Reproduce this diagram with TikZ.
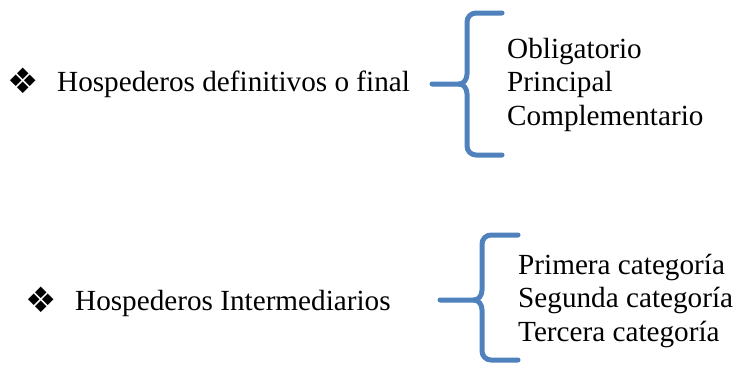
\documentclass[tikz,border=0pt]{standalone}
\usepackage{fontspec}
\setmainfont{Liberation Serif}
\newfontfamily\simbolos{DejaVu Sans}
\usepackage{xcolor}
\definecolor{llaveazul}{RGB}{79,129,189}

\begin{document}
\begin{tikzpicture}[x=1pt, y=-1pt,
	texto/.style={anchor=base west, inner sep=0pt, font=\fontsize{29.2}{33.5}\selectfont},
	vineta/.style={inner sep=0pt, font=\simbolos\fontsize{35}{35}\selectfont},
	llave/.style={llaveazul, line width=5pt, line cap=round, line join=round}]
	\useasboundingbox (0,0) rectangle (736,365);
	
	\node [vineta] (v1) at (23,81) {❖};
	\node [texto] (h1) at (57,91) {Hospederos definitivos o final};
	\foreach \t [count=\i] in {Obligatorio, Principal, Complementario}
		\node [texto] (a\i) at (507,{58+33.5*(\i-1)}) {\t};
	
	\draw [llave] (502,13) -- (476,13) to [out=180, in=90] (467,22) -- (467,74)
		to [out=270, in=0] (459,84) -- (432,84);
	\draw [llave] (459,84) to [out=0, in=90] (467,94) -- (467,146)
		to [out=270, in=180] (476,155) -- (502,155);
	
	\node [vineta] (v2) at (41,300) {❖};
	\node [texto] (h2) at (75,310) {Hospederos Intermediarios};
	\foreach \t [count=\i] in {Primera categoría, Segunda categoría, Tercera categoría}
		\node [texto] (b\i) at (518,{274+33.5*(\i-1)}) {\t};
	
	\draw [llave] (518,235) -- (491,235) to [out=180, in=90] (482,244) -- (482,290)
		to [out=270, in=0] (474,300) -- (440,300);
	\draw [llave] (474,300) to [out=0, in=90] (482,310) -- (482,351)
		to [out=270, in=180] (491,360) -- (518,360);
\end{tikzpicture}
\end{document}
